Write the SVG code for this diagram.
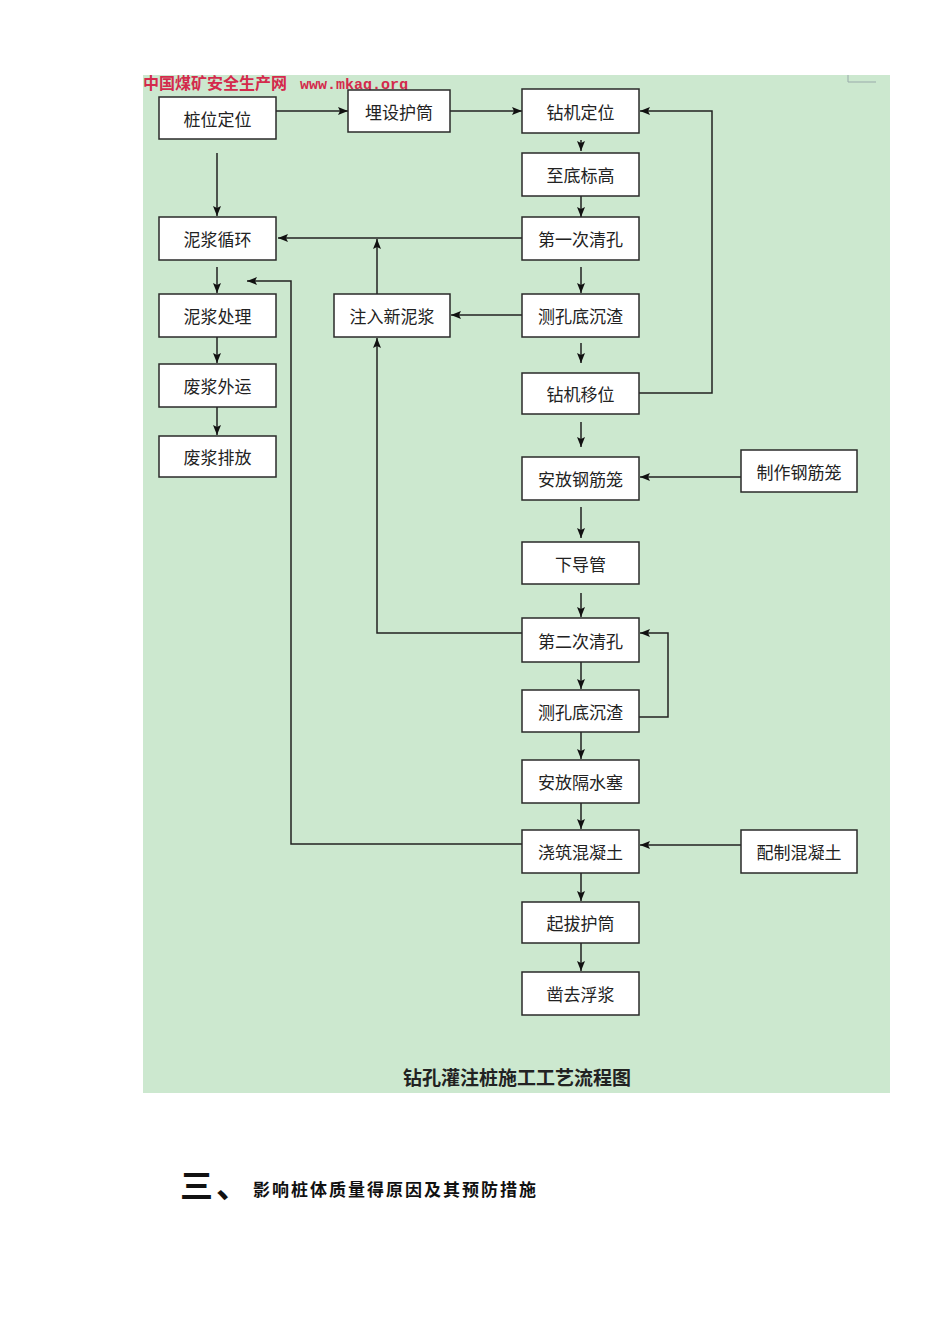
<svg xmlns="http://www.w3.org/2000/svg" width="950" height="1344" viewBox="0 0 950 1344">
<style>
.box rect{fill:#fff;stroke:#2a2a2a;stroke-width:1.5}
.box text{font-family:"Noto Sans CJK SC",sans-serif;font-size:17px;fill:#222;text-anchor:middle;dominant-baseline:central}
.conn path{fill:none;stroke:#222;stroke-width:1.5}
</style>
<defs>
<marker id="ah" viewBox="0 0 10 8" refX="10" refY="4" markerWidth="10" markerHeight="8" markerUnits="userSpaceOnUse" orient="auto">
<path d="M0,0 L10,4 L0,8 L2,4 z" fill="#111"/>
</marker>
</defs>
<rect x="0" y="0" width="950" height="1344" fill="#fff"/>
<rect x="143" y="75" width="747" height="1018" fill="#cce8cf"/>
<path d="M848,75 V82 H876" fill="none" stroke="#9aa" stroke-width="1"/>
<text x="143" y="89" font-family="Noto Sans CJK SC,sans-serif" font-size="16" font-weight="bold" fill="#d42a4c">中国煤矿安全生产网</text>
<text x="300" y="89" font-family="Liberation Mono,monospace" font-size="15" font-weight="bold" fill="#d42a4c">www.mkaq.org</text>

<g class="conn">
<path d="M276,111 H348" marker-end="url(#ah)"/>
<path d="M450,111 H522" marker-end="url(#ah)"/>
<path d="M581,140 V151" marker-end="url(#ah)"/>
<path d="M581,196 V217" marker-end="url(#ah)"/>
<path d="M522,238 H278" marker-end="url(#ah)"/>
<path d="M377,294 V239" marker-end="url(#ah)"/>
<path d="M581,267 V293" marker-end="url(#ah)"/>
<path d="M522,315 H451" marker-end="url(#ah)"/>
<path d="M581,343 V363" marker-end="url(#ah)"/>
<path d="M639,393 H712 V111 H640" marker-end="url(#ah)"/>
<path d="M217,153 V216" marker-end="url(#ah)"/>
<path d="M217,267 V293" marker-end="url(#ah)"/>
<path d="M217,337 V363" marker-end="url(#ah)"/>
<path d="M217,407 V435" marker-end="url(#ah)"/>
<path d="M581,422 V447" marker-end="url(#ah)"/>
<path d="M741,477 H640" marker-end="url(#ah)"/>
<path d="M581,507 V538" marker-end="url(#ah)"/>
<path d="M581,593 V617" marker-end="url(#ah)"/>
<path d="M522,633 H377 V338" marker-end="url(#ah)"/>
<path d="M581,662 V689" marker-end="url(#ah)"/>
<path d="M639,717 H668 V633 H640" marker-end="url(#ah)"/>
<path d="M581,732 V759" marker-end="url(#ah)"/>
<path d="M581,803 V829" marker-end="url(#ah)"/>
<path d="M522,844 H291 V281 H247" marker-end="url(#ah)"/>
<path d="M741,845 H640" marker-end="url(#ah)"/>
<path d="M581,873 V901" marker-end="url(#ah)"/>
<path d="M581,943 V971" marker-end="url(#ah)"/>
</g>

<g id="n1" class="box"><rect x="159" y="97" width="117" height="42"/><text x="217.5" y="118">桩位定位</text></g>
<g id="n2" class="box"><rect x="348" y="90" width="102" height="42"/><text x="399" y="111">埋设护筒</text></g>
<g id="n3" class="box"><rect x="522" y="89" width="117" height="44"/><text x="580.5" y="111">钻机定位</text></g>
<g id="n4" class="box"><rect x="522" y="153" width="117" height="43"/><text x="580.5" y="174.5">至底标高</text></g>
<g id="n5" class="box"><rect x="522" y="217" width="117" height="43"/><text x="580.5" y="238.5">第一次清孔</text></g>
<g id="n6" class="box"><rect x="159" y="217" width="117" height="43"/><text x="217.5" y="238.5">泥浆循环</text></g>
<g id="n7" class="box"><rect x="159" y="294" width="117" height="43"/><text x="217.5" y="315.5">泥浆处理</text></g>
<g id="n8" class="box"><rect x="334" y="294" width="116" height="43"/><text x="392" y="315.5">注入新泥浆</text></g>
<g id="n9" class="box"><rect x="522" y="294" width="117" height="43"/><text x="580.5" y="315.5">测孔底沉渣</text></g>
<g id="n10" class="box"><rect x="522" y="373" width="117" height="41"/><text x="580.5" y="393.5">钻机移位</text></g>
<g id="n11" class="box"><rect x="159" y="364" width="117" height="43"/><text x="217.5" y="385.5">废浆外运</text></g>
<g id="n12" class="box"><rect x="159" y="436" width="117" height="41"/><text x="217.5" y="456.5">废浆排放</text></g>
<g id="n13" class="box"><rect x="522" y="457" width="117" height="43"/><text x="580.5" y="478.5">安放钢筋笼</text></g>
<g id="n14" class="box"><rect x="741" y="450" width="116" height="42"/><text x="799" y="471">制作钢筋笼</text></g>
<g id="n15" class="box"><rect x="522" y="542" width="117" height="42"/><text x="580.5" y="563">下导管</text></g>
<g id="n16" class="box"><rect x="522" y="618" width="117" height="44"/><text x="580.5" y="640">第二次清孔</text></g>
<g id="n17" class="box"><rect x="522" y="690" width="117" height="42"/><text x="580.5" y="711">测孔底沉渣</text></g>
<g id="n18" class="box"><rect x="522" y="760" width="117" height="43"/><text x="580.5" y="781.5">安放隔水塞</text></g>
<g id="n19" class="box"><rect x="522" y="830" width="117" height="43"/><text x="580.5" y="851.5">浇筑混凝土</text></g>
<g id="n20" class="box"><rect x="741" y="830" width="116" height="43"/><text x="799" y="851.5">配制混凝土</text></g>
<g id="n21" class="box"><rect x="522" y="902" width="117" height="41"/><text x="580.5" y="922.5">起拔护筒</text></g>
<g id="n22" class="box"><rect x="522" y="972" width="117" height="43"/><text x="580.5" y="993.5">凿去浮浆</text></g>

<text x="517" y="1085" text-anchor="middle" font-family="Noto Sans CJK SC,sans-serif" font-size="19" font-weight="bold" fill="#222">钻孔灌注桩施工工艺流程图</text>
<text x="180" y="1198" font-family="Noto Sans CJK SC,sans-serif" font-size="33" font-weight="bold" letter-spacing="3" fill="#111">三、</text>
<text x="253" y="1196" font-family="Noto Sans CJK SC,sans-serif" font-size="17" font-weight="bold" letter-spacing="2" fill="#111">影响桩体质量得原因及其预防措施</text>
</svg>
